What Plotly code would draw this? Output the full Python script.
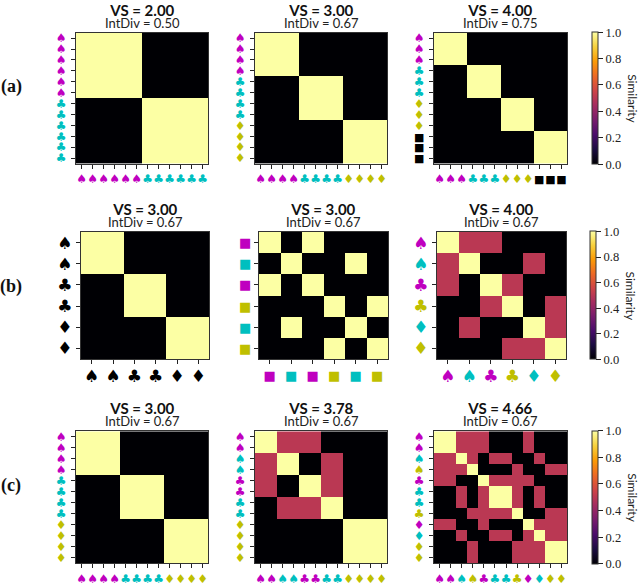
import plotly.graph_objects as go

SP, CL, DI, SQ = "♠", "♣", "♦", "■"
M, C, Y, K = "#bf00bf", "#00bfbf", "#bfbf00", "#000000"

# titles
vs_labels = ["2.00", "3.00", "4.00", "3.00", "3.00", "4.00", "3.00", "3.78", "4.66"]
intdiv_labels = ["0.50", "0.67", "0.75", "0.67", "0.67", "0.67", "0.67", "0.67", "0.67"]
row_labels = ["(a)", "(b)", "(c)"]
cbar_ticks = [0, 0.2, 0.4, 0.6, 0.8, 1.0]

# tick glyphs and colours per panel
a1_suits = [SP] * 6 + [CL] * 6
a1_cols = [M] * 6 + [C] * 6
a2_suits = [SP] * 4 + [CL] * 4 + [DI] * 4
a2_cols = [M] * 4 + [C] * 4 + [Y] * 4
a3_suits = [SP] * 3 + [CL] * 3 + [DI] * 3 + [SQ] * 3
a3_cols = [M] * 3 + [C] * 3 + [Y] * 3 + [K] * 3
b1_suits = [SP, SP, CL, CL, DI, DI]
b1_cols = [K] * 6
b2_suits = [SQ] * 6
b2_cols = [M, C, M, Y, C, Y]
b3_suits = [SP, SP, CL, CL, DI, DI]
b3_cols = [M, C, M, Y, C, Y]
c1_suits = a2_suits
c1_cols = a2_cols
c2_suits = [SP] * 4 + [CL] * 4 + [DI] * 4
c2_cols = [M, M, C, C, M, M, C, C, Y, Y, Y, Y]
c3_suits = [SP] * 4 + [CL] * 4 + [DI] * 4
c3_cols = [M, M, C, Y, M, C, C, Y, M, C, Y, Y]

# similarity matrices
a1_sim = [[1] * 6 + [0] * 6] * 6 + [[0] * 6 + [1] * 6] * 6
a2_sim = [[1] * 4 + [0] * 8] * 4 + [[0] * 4 + [1] * 4 + [0] * 4] * 4 + [[0] * 8 + [1] * 4] * 4
a3_sim = ([[1] * 3 + [0] * 9] * 3 + [[0] * 3 + [1] * 3 + [0] * 6] * 3
          + [[0] * 6 + [1] * 3 + [0] * 3] * 3 + [[0] * 9 + [1] * 3] * 3)
b1_sim = [
    [1, 1, 0, 0, 0, 0],
    [1, 1, 0, 0, 0, 0],
    [0, 0, 1, 1, 0, 0],
    [0, 0, 1, 1, 0, 0],
    [0, 0, 0, 0, 1, 1],
    [0, 0, 0, 0, 1, 1],
]
b2_sim = [
    [1, 0, 1, 0, 0, 0],
    [0, 1, 0, 0, 1, 0],
    [1, 0, 1, 0, 0, 0],
    [0, 0, 0, 1, 0, 1],
    [0, 1, 0, 0, 1, 0],
    [0, 0, 0, 1, 0, 1],
]
b3_sim = [
    [1, .5, .5, 0, 0, 0],
    [.5, 1, 0, 0, .5, 0],
    [.5, 0, 1, .5, 0, 0],
    [0, 0, .5, 1, 0, .5],
    [0, .5, 0, 0, 1, .5],
    [0, 0, 0, .5, .5, 1],
]
c1_sim = a2_sim
c2_sim = [
    [1, 1, .5, .5, .5, .5, 0, 0, 0, 0, 0, 0],
    [1, 1, .5, .5, .5, .5, 0, 0, 0, 0, 0, 0],
    [.5, .5, 1, 1, 0, 0, .5, .5, 0, 0, 0, 0],
    [.5, .5, 1, 1, 0, 0, .5, .5, 0, 0, 0, 0],
    [.5, .5, 0, 0, 1, 1, .5, .5, 0, 0, 0, 0],
    [.5, .5, 0, 0, 1, 1, .5, .5, 0, 0, 0, 0],
    [0, 0, .5, .5, .5, .5, 1, 1, 0, 0, 0, 0],
    [0, 0, .5, .5, .5, .5, 1, 1, 0, 0, 0, 0],
    [0, 0, 0, 0, 0, 0, 0, 0, 1, 1, 1, 1],
    [0, 0, 0, 0, 0, 0, 0, 0, 1, 1, 1, 1],
    [0, 0, 0, 0, 0, 0, 0, 0, 1, 1, 1, 1],
    [0, 0, 0, 0, 0, 0, 0, 0, 1, 1, 1, 1],
]
c3_sim = [
    [1, 1, .5, .5, .5, 0, 0, 0, .5, 0, 0, 0],
    [1, 1, .5, .5, .5, 0, 0, 0, .5, 0, 0, 0],
    [.5, .5, 1, .5, 0, .5, .5, 0, 0, .5, 0, 0],
    [.5, .5, .5, 1, 0, 0, 0, .5, 0, 0, .5, .5],
    [.5, .5, 0, 0, 1, .5, .5, .5, .5, 0, 0, 0],
    [0, 0, .5, 0, .5, 1, 1, .5, 0, .5, 0, 0],
    [0, 0, .5, 0, .5, 1, 1, .5, 0, .5, 0, 0],
    [0, 0, 0, .5, .5, .5, .5, 1, 0, 0, .5, .5],
    [.5, .5, 0, 0, .5, 0, 0, 0, 1, .5, .5, .5],
    [0, 0, .5, 0, 0, .5, .5, 0, .5, 1, .5, .5],
    [0, 0, 0, .5, 0, 0, 0, .5, .5, .5, 1, 1],
    [0, 0, 0, .5, 0, 0, 0, .5, .5, .5, 1, 1],
]

panels = [
    (a1_sim, a1_suits, a1_cols), (a2_sim, a2_suits, a2_cols), (a3_sim, a3_suits, a3_cols),
    (b1_sim, b1_suits, b1_cols), (b2_sim, b2_suits, b2_cols), (b3_sim, b3_suits, b3_cols),
    (c1_sim, c1_suits, c1_cols), (c2_sim, c2_suits, c2_cols), (c3_sim, c3_suits, c3_cols),
]

W, H = 640, 586
# pixel boxes of the panels, per row: columns, (top, bottom), colourbar left, row label y
row_boxes = [
    ([(76, 208), (255, 387), (434, 567)], (32, 164), 592, 86),
    ([(81, 209), (259, 388), (437, 566)], (233, 361), 590, 288),
    ([(76, 208), (255, 387), (434, 567)], (434, 567), 592, 489),
]

SANS = "Lato"
SERIF = "Liberation Serif"
INK = "#222222"

fig = go.Figure()
axis_style = dict(showline=True, mirror=True, linecolor="#333333", linewidth=1.2, showgrid=False,
                  zeroline=False, ticks="outside", ticklen=4, tickwidth=1, tickcolor="#222222")
annots = []

for i, (sim, suits, cols) in enumerate(panels):
    r, c = divmod(i, 3)
    boxes, (top, bottom), cb_x, _ = row_boxes[r]
    left, right = boxes[c]
    n = len(suits)
    all_squares = set(suits) == {SQ}
    size = 12 if n == 12 else (13 if all_squares else 17)
    ticktext = []
    for s, col in zip(suits, cols):
        style = f"color:{col}" + (";font-size:11px" if s == SQ and n == 12 else "")
        ticktext.append(f'<span style="{style}">{s}</span>')
    idx = list(range(n))
    name = "" if i == 0 else str(i + 1)

    trace = go.Heatmap(z=sim, x=idx, y=idx, zmin=0, zmax=1, colorscale="Inferno",
                       xaxis="x" + name, yaxis="y" + name, showscale=(c == 2))
    if c == 2:
        trace.colorbar = dict(
            x=cb_x / W, xanchor="left", xref="paper", xpad=0,
            y=1 - (top + bottom) / 2 / H, yanchor="middle", yref="paper", ypad=0,
            len=bottom - top, lenmode="pixels", thickness=6, thicknessmode="pixels",
            outlinewidth=1, outlinecolor="#333333", tickmode="array", tickvals=cbar_ticks,
            ticktext=[f"{t:.1f}" for t in cbar_ticks], ticks="outside", ticklen=5,
            tickcolor="#222222", tickfont=dict(family=SERIF, size=12.5, color=INK),
        )
        annots.append(dict(text="Similarity", x=(cb_x + 41) / W, y=1 - (top + bottom) / 2 / H,
                           textangle=90, font=dict(family=SANS, size=12, color=INK)))
    fig.add_trace(trace)

    x_standoff = 0 if n == 12 or all_squares else -2
    fig.update_layout({
        "xaxis" + name: dict(domain=[left / W, right / W], anchor="y" + name, tickmode="array",
                             tickvals=idx, ticktext=ticktext, tickangle=0, range=[-0.5, n - 0.5],
                             tickfont=dict(family="DejaVu Sans", size=size),
                             ticklabelstandoff=x_standoff, **axis_style),
        "yaxis" + name: dict(domain=[1 - bottom / H, 1 - top / H], anchor="x" + name, tickmode="array",
                             tickvals=idx, ticktext=ticktext, range=[n - 0.5, -0.5],
                             tickfont=dict(family="DejaVu Sans", size=size),
                             ticklabelstandoff=2 if n == 12 else 0, **axis_style),
    })

    # both title lines in one annotation, its base size sets the line spacing
    title = (f'<b><span style="font-size:15px;color:#111111">VS = {vs_labels[i]}</span></b><br>'
             f'<span style="font-size:13px">IntDiv = {intdiv_labels[i]}</span>')
    annots.append(dict(text=title, x=(left + right) / 2 / W, y=1 - (top - 17) / H,
                       font=dict(family=SANS, size=9.5, color=INK)))

for label, (_, _, _, label_y) in zip(row_labels, row_boxes):
    annots.append(dict(text=f"<b>{label}</b>", x=11 / W, y=1 - label_y / H,
                       font=dict(family=SERIF, size=18, color="#111111")))

for a in annots:
    a.update(xref="paper", yref="paper", xanchor="center", yanchor="middle", showarrow=False)

fig.update_layout(width=W, height=H, margin=dict(l=0, r=0, t=0, b=0), annotations=annots,
                  paper_bgcolor="white", plot_bgcolor="white", showlegend=False)

fig.write_html("out.html", config={"displayModeBar": False},
               post_script="document.body.style.margin='0';")
